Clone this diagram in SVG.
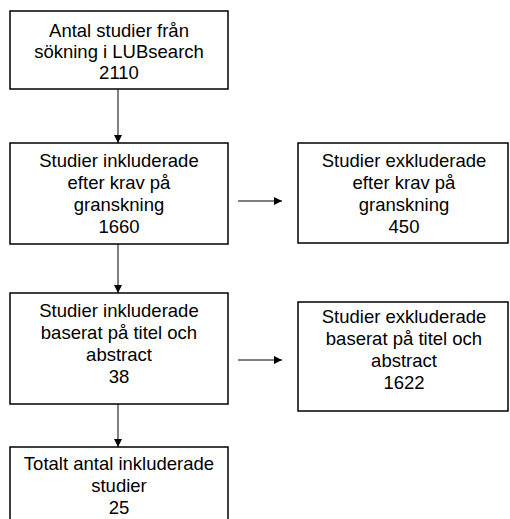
<svg xmlns="http://www.w3.org/2000/svg" width="510" height="519" viewBox="0 0 510 519">
<defs>
<style>
.box{fill:#fff;stroke:#000;stroke-width:1.5}
.t{font-family:"Liberation Sans",Arial,sans-serif;font-size:18.5px;fill:#000;text-anchor:middle}
.c{stroke:#000;stroke-width:1;fill:none;marker-end:url(#ah)}
</style>
<marker id="ah" viewBox="0 0 10 10" refX="10" refY="5" markerWidth="8" markerHeight="8" markerUnits="userSpaceOnUse" orient="auto">
<path d="M0,0 L10,5 L0,10 z" fill="#000"/>
</marker>
</defs>
<rect width="510" height="519" fill="#fff"/>
<g id="connectors">
<line class="c" x1="118" y1="89" x2="118" y2="143"/>
<line class="c" x1="118" y1="244" x2="118" y2="293"/>
<line class="c" x1="118" y1="404" x2="118" y2="447"/>
<line class="c" x1="238" y1="201" x2="282" y2="201"/>
<line class="c" x1="238" y1="360" x2="282" y2="360"/>
</g>
<g id="n1">
<rect class="box" x="10" y="11" width="218" height="78"/>
<text class="t" x="119" y="37">Antal studier från</text>
<text class="t" x="119" y="58">sökning i LUBsearch</text>
<text class="t" x="119" y="79">2110</text>
</g>
<g id="n2">
<rect class="box" x="10" y="143" width="218" height="101"/>
<text class="t" x="119" y="167">Studier inkluderade</text>
<text class="t" x="119" y="189">efter krav på</text>
<text class="t" x="119" y="211">granskning</text>
<text class="t" x="119" y="233">1660</text>
</g>
<g id="n3">
<rect class="box" x="298" y="143" width="210" height="100"/>
<text class="t" x="404" y="167">Studier exkluderade</text>
<text class="t" x="404" y="189">efter krav på</text>
<text class="t" x="404" y="211">granskning</text>
<text class="t" x="404" y="233">450</text>
</g>
<g id="n4">
<rect class="box" x="10" y="293" width="218" height="111"/>
<text class="t" x="119" y="317">Studier inkluderade</text>
<text class="t" x="119" y="339">baserat på titel och</text>
<text class="t" x="119" y="361">abstract</text>
<text class="t" x="119" y="383">38</text>
</g>
<g id="n5">
<rect class="box" x="298" y="302" width="210" height="109"/>
<text class="t" x="404" y="323">Studier exkluderade</text>
<text class="t" x="404" y="345">baserat på titel och</text>
<text class="t" x="404" y="367">abstract</text>
<text class="t" x="404" y="389">1622</text>
</g>
<g id="n6">
<rect class="box" x="10" y="447" width="218" height="80"/>
<text class="t" x="119" y="470">Totalt antal inkluderade</text>
<text class="t" x="119" y="492">studier</text>
<text class="t" x="119" y="514">25</text>
</g>
</svg>
